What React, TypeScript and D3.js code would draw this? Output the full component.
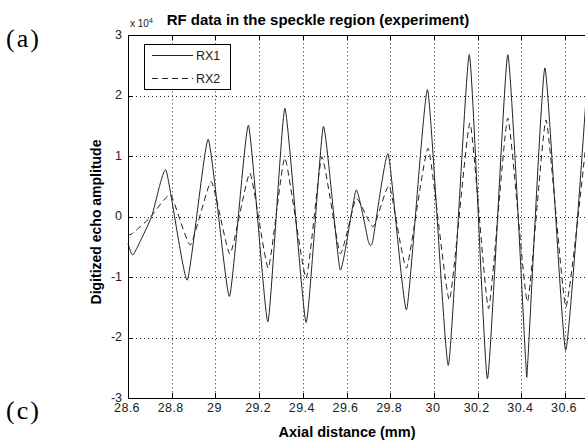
import { useEffect, useRef } from 'react';
import * as d3 from 'd3';

// axial distance (mm) and amplitude (peaks, troughs and a few shape points)
const rx1Dist = [28.600, 28.624, 28.708, 28.774, 28.871, 28.967, 29.064, 29.151, 29.240, 29.318, 29.415, 29.494, 29.571, 29.644, 29.700, 29.720, 29.791, 29.875, 29.971, 30.066, 30.162, 30.245, 30.338, 30.420, 30.430, 30.508, 30.603, 30.700];
const rx1Amp = [-4400, -6300, 0, 7700, -10500, 12800, -13200, 15100, -17400, 17900, -17500, 14900, -8800, 4400, -4100, -4100, 10400, -15400, 21000, -24600, 26800, -26800, 26800, -23800, -23800, 24600, -22100, 21500];

const rx2Dist = [28.600, 28.620, 28.700, 28.795, 28.885, 28.981, 29.067, 29.158, 29.242, 29.318, 29.415, 29.487, 29.571, 29.644, 29.722, 29.796, 29.875, 29.974, 30.071, 30.165, 30.250, 30.338, 30.428, 30.513, 30.604, 30.700];
const rx2Amp = [-3000, -2800, -200, 3600, -4700, 5800, -6200, 7200, -8500, 9700, -10200, 9900, -6100, 3000, -1700, 5100, -8500, 11300, -13800, 15500, -15200, 16300, -14100, 16000, -14900, 13500];

const xTicks = [28.6, 28.8, 29, 29.2, 29.4, 29.6, 29.8, 30, 30.2, 30.4, 30.6];
const xTickLabels = ['28.6', '28.8', '29', '29.2', '29.4', '29.6', '29.8', '30', '30.2', '30.4', '30.6'];
const yTicks = [-30000, -20000, -10000, 0, 10000, 20000, 30000];
const yTickLabels = ['-3', '-2', '-1', '0', '1', '2', '3'];

const seriesNames = ['RX1', 'RX2'];

const App = () => {
    const svgRef = useRef<SVGSVGElement>(null);

    useEffect(() => {
        const W = 585, H = 446;
        const left = 128, top = 35.3, bottom = 398;
        const right = left + 2.2 * 218.5; // axes run past the picture edge

        const svg = d3.select(svgRef.current);
        svg.selectAll('*').remove();
        svg.attr('width', W).attr('height', H);

        svg.append('rect').attr('width', W).attr('height', H).attr('fill', 'white');

        const x = d3.scaleLinear().domain([28.6, 30.8]).range([left, right]);
        const y = d3.scaleLinear().domain([-30000, 30000]).range([bottom, top]);

        const font = 'Liberation Sans, Arial, sans-serif';

        // grid
        const grid = svg.append('g')
            .attr('stroke', '#222')
            .attr('stroke-width', 1)
            .attr('stroke-dasharray', '1,3');
        grid.selectAll('.gx').data(xTicks.slice(1)).enter().append('line')
            .attr('x1', d => Math.round(x(d)) + 0.5).attr('x2', d => Math.round(x(d)) + 0.5)
            .attr('y1', top).attr('y2', bottom);
        grid.selectAll('.gy').data(yTicks.slice(1, -1)).enter().append('line')
            .attr('x1', left).attr('x2', W)
            .attr('y1', d => Math.round(y(d)) + 0.5).attr('y2', d => Math.round(y(d)) + 0.5);

        // data lines
        const line = d3.line<[number, number]>()
            .x(d => x(d[0]))
            .y(d => y(d[1]))
            .curve(d3.curveCardinal.tension(0.55));

        const rx1 = rx1Dist.map((d, i) => [d, rx1Amp[i]] as [number, number]);
        const rx2 = rx2Dist.map((d, i) => [d, rx2Amp[i]] as [number, number]);

        const plot = svg.append('g');
        plot.append('path').attr('d', line(rx2))
            .attr('fill', 'none').attr('stroke', '#222').attr('stroke-width', 1)
            .attr('stroke-dasharray', '6,4');
        plot.append('path').attr('d', line(rx1))
            .attr('fill', 'none').attr('stroke', '#222').attr('stroke-width', 1);

        // axes box (left, top, bottom)
        const ax = svg.append('g').attr('stroke', '#000').attr('stroke-width', 1);
        ax.append('line').attr('x1', left + 0.5).attr('x2', left + 0.5).attr('y1', top).attr('y2', bottom);
        ax.append('line').attr('x1', left).attr('x2', W).attr('y1', Math.round(top) + 0.5).attr('y2', Math.round(top) + 0.5);
        ax.append('line').attr('x1', left).attr('x2', W).attr('y1', bottom + 0.5).attr('y2', bottom + 0.5);

        // tick marks (inward)
        xTicks.forEach(t => {
            const px = Math.round(x(t)) + 0.5;
            ax.append('line').attr('x1', px).attr('x2', px).attr('y1', bottom).attr('y2', bottom - 5);
            ax.append('line').attr('x1', px).attr('x2', px).attr('y1', top).attr('y2', top + 5);
        });
        yTicks.forEach(t => {
            const py = Math.round(y(t)) + 0.5;
            ax.append('line').attr('x1', left).attr('x2', left + 5).attr('y1', py).attr('y2', py);
        });

        // tick labels
        svg.selectAll('.xl').data(xTicks).enter().append('text')
            .attr('x', d => x(d) - 1)
            .attr('y', 412)
            .attr('text-anchor', 'middle')
            .style('font-family', font).style('font-size', '12.5px')
            .style('letter-spacing', '0.4px')
            .style('fill', '#222')
            .text((d, i) => xTickLabels[i]);

        svg.selectAll('.yl').data(yTicks).enter().append('text')
            .attr('x', 122)
            .attr('y', d => y(d) - 1)
            .attr('dy', '0.36em')
            .attr('text-anchor', 'end')
            .style('font-family', font).style('font-size', '12.5px')
            .style('fill', '#222')
            .text((d, i) => yTickLabels[i]);

        // exponent
        const ex = svg.append('text').attr('x', 130).attr('y', 27)
            .style('font-family', font).style('font-size', '10px').style('fill', '#222');
        ex.append('tspan').text('x 10');
        ex.append('tspan').attr('dy', -4).style('font-size', '7px').text('4');

        // title and axis labels
        svg.append('text').attr('x', 318).attr('y', 25)
            .attr('text-anchor', 'middle')
            .style('font-family', font).style('font-size', '15px').style('font-weight', 'bold')
            .text('RF data in the speckle region (experiment)');

        svg.append('text').attr('x', 347).attr('y', 437)
            .attr('text-anchor', 'middle')
            .style('font-family', font).style('font-size', '14.5px').style('font-weight', 'bold')
            .text('Axial distance (mm)');

        svg.append('text')
            .attr('transform', 'translate(101,222) rotate(-90)')
            .attr('text-anchor', 'middle')
            .style('font-family', font).style('font-size', '14px').style('font-weight', 'bold')
            .text('Digitized echo amplitude');

        // legend
        const lg = svg.append('g');
        lg.append('rect').attr('x', 144.5).attr('y', 44.5).attr('width', 86).attr('height', 45)
            .attr('fill', 'white').attr('stroke', '#000').attr('stroke-width', 1);
        seriesNames.forEach((name, i) => {
            const ly = 55.5 + i * 23;
            lg.append('line').attr('x1', 152).attr('x2', 193).attr('y1', ly).attr('y2', ly)
                .attr('stroke', '#222').attr('stroke-width', 1)
                .attr('stroke-dasharray', i === 1 ? '6,4' : null);
            lg.append('text').attr('x', 196).attr('y', ly + 4.5)
                .style('font-family', font).style('font-size', '12.5px').style('fill', '#222')
                .text(name);
        });

        // panel letters
        const serif = 'Liberation Serif, Times New Roman, serif';
        svg.append('text').attr('x', 6).attr('y', 47)
            .style('font-family', serif).style('font-size', '26px').style('letter-spacing', '2px')
            .text('(a)');
        svg.append('text').attr('x', 6).attr('y', 419)
            .style('font-family', serif).style('font-size', '26px').style('letter-spacing', '2px')
            .text('(c)');
    }, []);

    return (
        <svg ref={svgRef} style={{ position: 'absolute', left: 0, top: 0, display: 'block' }}></svg>
    );
};

export default App;
